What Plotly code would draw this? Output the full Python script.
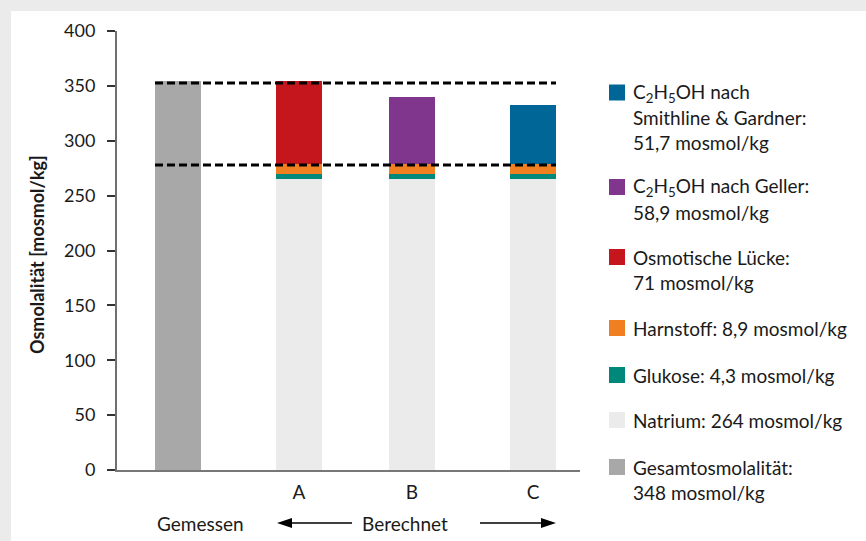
import plotly.graph_objects as go

# ---- data ----
measured_label = "Gemessen"
calc_label = "Berechnet"
calc_labels = ["A", "B", "C"]
gesamt = [354]                 # measured total osmolality (bar height as drawn)
natrium = [265.5, 265.5, 265.5]
glukose = [4.3, 4.3, 4.3]
harnstoff = [8.9, 8.9, 8.9]
luecke = [75.5]                # osmotic gap, bar A
geller = [61.2]                # ethanol after Geller, bar B
smithline = [54.0]             # ethanol after Smithline & Gardner, bar C
ref_lines = [352.6, 277.9]     # dashed reference levels
y_ticks = [0, 50, 100, 150, 200, 250, 300, 350, 400]

legend_entries = [
    ("#006698", ["C<sub>2</sub>H<sub>5</sub>OH nach", "Smithline & Gardner:", "51,7 mosmol/kg"]),
    ("#80368c", ["C<sub>2</sub>H<sub>5</sub>OH nach Geller:", "58,9 mosmol/kg"]),
    ("#c4161c", ["Osmotische Lücke:", "71 mosmol/kg"]),
    ("#f07f22", ["Harnstoff: 8,9 mosmol/kg"]),
    ("#00887a", ["Glukose: 4,3 mosmol/kg"]),
    ("#ebebeb", ["Natrium: 264 mosmol/kg"]),
    ("#a8a8a8", ["Gesamtosmolalität:", "348 mosmol/kg"]),
]

# ---- layout constants (pixel geometry) ----
W, H = 866, 541
L, R, T, B = 117, 580, 31, 470
x_meas = [61]
x_calc = [182, 295, 416]
bar_w = 46
FONT = "Lato"
TXT = "#1a1a1a"
FS = 19

def PX(x):
    return (x - L) / (R - L)

def PY(y):
    return (B - y) / (B - T)

fig = go.Figure()
bar_common = dict(width=bar_w, marker_line_width=0, showlegend=False, hoverinfo="skip")
fig.add_bar(x=x_meas, y=gesamt, marker_color="#a8a8a8", **bar_common)
fig.add_bar(x=x_calc, y=natrium, marker_color="#ebebeb", **bar_common)
fig.add_bar(x=x_calc, y=glukose, marker_color="#00887a", **bar_common)
fig.add_bar(x=x_calc, y=harnstoff, marker_color="#f07f22", **bar_common)
fig.add_bar(x=[x_calc[0]], y=luecke, marker_color="#c4161c", **bar_common)
fig.add_bar(x=[x_calc[1]], y=geller, marker_color="#80368c", **bar_common)
fig.add_bar(x=[x_calc[2]], y=smithline, marker_color="#006698", **bar_common)

shapes = []
# white panel on grey page
shapes.append(dict(type="rect", xref="paper", yref="paper", x0=PX(11), x1=PX(W + 5),
                   y0=PY(H + 5), y1=PY(11), fillcolor="white", line_width=0, layer="below"))
# dashed reference lines
for v in ref_lines:
    shapes.append(dict(type="line", xref="x", yref="y", x0=x_meas[0] - bar_w / 2,
                       x1=x_calc[2] + bar_w / 2, y0=v, y1=v,
                       line=dict(color="black", width=3, dash="8px,4px"), layer="above"))

# arrows under the axis
ya = PY(523)
dh = 5 / (B - T)
lx0, lx1 = 277 - L, 352 - L
rx0, rx1 = 480 - L, 556 - L
head = 15
shapes.append(dict(type="line", xref="x", yref="paper", x0=lx0 + head, x1=lx1, y0=ya, y1=ya,
                   line=dict(color="black", width=1.5)))
shapes.append(dict(type="path", xref="x", yref="paper",
                   path=f"M{lx0},{ya} L{lx0 + head},{ya + dh} L{lx0 + head},{ya - dh} Z",
                   fillcolor="black", line_width=0))
shapes.append(dict(type="line", xref="x", yref="paper", x0=rx0, x1=rx1 - head, y0=ya, y1=ya,
                   line=dict(color="black", width=1.5)))
shapes.append(dict(type="path", xref="x", yref="paper",
                   path=f"M{rx1},{ya} L{rx1 - head},{ya + dh} L{rx1 - head},{ya - dh} Z",
                   fillcolor="black", line_width=0))

annotations = []
# y axis title
annotations.append(dict(text="<b>Osmolalität [mosmol/kg]</b>", xref="paper", yref="paper",
                        x=PX(37), y=PY(255), textangle=-90, showarrow=False,
                        xanchor="center", yanchor="middle",
                        font=dict(family=FONT, size=18, color=TXT)))
annotations.append(dict(text=measured_label, xref="paper", yref="paper", x=PX(155), y=PY(523),
                        xanchor="left", yanchor="middle", showarrow=False,
                        font=dict(family=FONT, size=FS, color=TXT)))
annotations.append(dict(text=calc_label, xref="paper", yref="paper", x=PX(405), y=PY(523),
                        xanchor="center", yanchor="middle", showarrow=False,
                        font=dict(family=FONT, size=FS, color=TXT)))

# legend (manual)
centers = [92.5, 187, 257, 328, 375, 420, 467]
for (col, lines), c in zip(legend_entries, centers):
    shapes.append(dict(type="rect", xref="paper", yref="paper", x0=PX(609), x1=PX(625),
                       y0=PY(c + 8), y1=PY(c - 8), fillcolor=col, line_width=0))
    for i, ln in enumerate(lines):
        annotations.append(dict(text=ln, xref="paper", yref="paper", x=PX(631),
                                y=PY(c + 25 * i), xanchor="left", yanchor="middle",
                                showarrow=False, font=dict(family=FONT, size=FS, color=TXT)))

fig.update_layout(
    width=W, height=H,
    margin=dict(l=L, r=W - R, t=T, b=H - B, pad=0),
    paper_bgcolor="#ebebeb", plot_bgcolor="rgba(0,0,0,0)",
    barmode="stack", bargap=0,
    font=dict(family=FONT, size=FS, color=TXT),
    shapes=shapes, annotations=annotations, showlegend=False,
    xaxis=dict(range=[0, R - L], showgrid=False, zeroline=False, showline=True,
               linecolor="#777777", linewidth=2, tickvals=x_calc, ticktext=calc_labels,
               ticks="", tickfont=dict(family=FONT, size=FS, color=TXT),
               ticklabelstandoff=4, fixedrange=True),
    yaxis=dict(range=[0, 400], tickvals=y_ticks, showgrid=False, zeroline=False,
               showline=True, linecolor="#707070", linewidth=2, ticks="outside",
               ticklen=8, tickwidth=2, tickcolor="#333333",
               tickfont=dict(family=FONT, size=18, color=TXT),
               ticklabelstandoff=8, fixedrange=True),
)

fig.write_html("out.html", config={"displayModeBar": False},
               post_script="document.body.style.margin='0';document.body.style.overflow='hidden';")
